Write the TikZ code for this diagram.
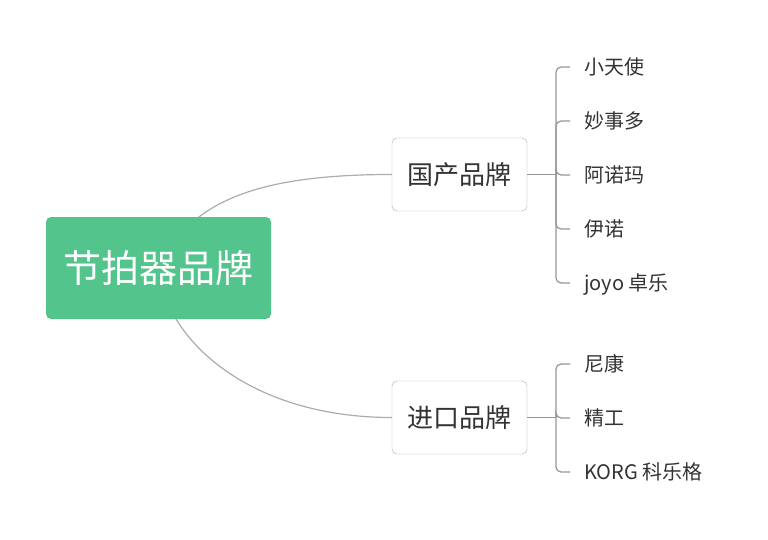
\documentclass[tikz,border=0pt]{standalone}
\usepackage{fontspec}
\setmainfont{Noto Sans CJK SC}
\usetikzlibrary{positioning,backgrounds}
\definecolor{rootgreen}{RGB}{82,196,140}
\definecolor{linegray}{RGB}{172,172,172}
\definecolor{forkgray}{RGB}{150,150,150}
\definecolor{textgray}{RGB}{51,51,51}

\begin{document}
\begin{tikzpicture}[
    x=1pt, y=-1pt,
    root/.style={fill=rootgreen, rounded corners=5pt, minimum width=225pt,
      minimum height=102pt, inner sep=0pt, text=white, font=\fontsize{38}{40}\selectfont,
      text height=33.4pt, text depth=4.6pt},
    branch/.style={draw=linegray, fill=white, rounded corners=5pt, minimum width=135pt,
      minimum height=73pt, inner sep=0pt, text=textgray, font=\fontsize{26}{30}\selectfont,
      text height=22.9pt, text depth=3.1pt},
    leaf/.style={anchor=west, inner sep=0pt, text=textgray, font=\fontsize{20}{24}\selectfont,
      text height=17.6pt, text depth=2.4pt},
    link/.style={draw=linegray, line width=1.2pt},
    fork/.style={draw=forkgray, line width=1.2pt, rounded corners=5pt}
  ]
  \useasboundingbox (0,0) rectangle (768,540);

  \node[root] (root) at (158.5,268) {节拍器品牌};
  \node[branch] (dom) at (459.5,174.5) {国产品牌};
  \node[branch] (imp) at (459.5,417.5) {进口品牌};

  \begin{pgfonlayer}{background}
    \draw[link] (root.center) .. controls +(31.5,-68) and +(-132,0) .. (dom.west);
    \draw[link] (root.center) .. controls +(6.5,72) and +(-142,0) .. (imp.west);
  \end{pgfonlayer}

  % domestic brands
  \coordinate (domfork) at (556,174.5);
  \draw[fork] (dom.east) -- (domfork);
  \foreach \n/\y/\lab in {1/67/小天使, 2/121/妙事多, 3/175/阿诺玛, 4/229/伊诺, 5/283/joyo 卓乐}{
    \node[leaf] (d\n) at (584,\y) {\lab};
    \draw[fork] (domfork) |- ([xshift=-14pt]d\n.west);
  }

  % imported brands
  \coordinate (impfork) at (556,417.5);
  \draw[fork] (imp.east) -- (impfork);
  \foreach \n/\y/\lab in {1/364/尼康, 2/418/精工, 3/472/KORG 科乐格}{
    \node[leaf] (i\n) at (584,\y) {\lab};
    \draw[fork] (impfork) |- ([xshift=-14pt]i\n.west);
  }
\end{tikzpicture}
\end{document}
